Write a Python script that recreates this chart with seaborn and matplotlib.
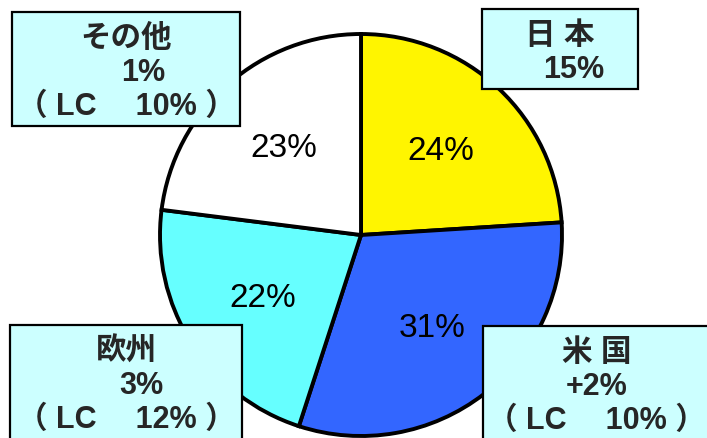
import matplotlib.pyplot as plt
from matplotlib.patches import Rectangle
import seaborn as sns

# pie shares (clockwise from 12 o'clock)
regions = ['日本', '米国', '欧州', 'その他']
shares = [24, 31, 22, 23]
colors = ['#FFF500', '#3366FF', '#66FFFF', '#FFFFFF']

# callout boxes: title, growth, LC growth
box_titles = ['日 本', '米 国', '欧州', 'その他']
box_growth = ['15%', '+2%', '3%', '1%']
box_lc = ['', '10%', '12%', '10%']

sns.set_style('white')
plt.rcParams['font.family'] = ['Liberation Sans', 'Noto Sans CJK JP', 'DejaVu Sans']

W, H = 707, 439
fig = plt.figure(figsize=(W / 100, H / 100), dpi=100)
ax = fig.add_axes([0, 0, 1, 1])

cx, cy, r = 361, H - 236, 201
wedges, texts, autotexts = ax.pie(
    shares, colors=colors, startangle=90, counterclock=False,
    center=(cx, cy), radius=r, pctdistance=0.58,
    autopct=lambda p: f'{p:.0f}%',
    wedgeprops=dict(edgecolor='black', linewidth=2.8),
)
for t in autotexts:
    t.set_fontsize(24)
    t.set_color('black')

ax.set_xlim(0, W)
ax.set_ylim(0, H)
ax.set_aspect('equal')
ax.axis('off')

# box geometry in pixels from the top-left: x0, y0, x1, y1, growth x-offset
boxes = {
    '日 本': (482, 10, 638, 90, 14),
    '米 国': (483, 327, 710, 445, 0),
    '欧州': (10, 326, 242, 445, 15),
    'その他': (12, 13, 240, 127, 17),
}

for title, g, lc in zip(box_titles, box_growth, box_lc):
    x0, y0, x1, y1, dx = boxes[title]
    ax.add_patch(Rectangle((x0, H - y1), x1 - x0, y1 - y0, facecolor='#CCFFFF',
                           edgecolor='black', linewidth=1.6, zorder=5))
    xm = (x0 + x1) / 2
    ax.text(xm, H - (y0 + 26), title, ha='center', va='center',
            fontsize=22, fontweight='bold', zorder=6)
    ax.text(xm + dx, H - (y0 + 60), g, ha='center', va='center',
            fontsize=22, fontweight='bold', zorder=6)
    if lc:
        ax.text(xm, H - (y0 + 94), f'（ LC　 {lc} ）', ha='center', va='center',
                fontsize=22, fontweight='bold', zorder=6)

plt.savefig('out.png', dpi=100)
